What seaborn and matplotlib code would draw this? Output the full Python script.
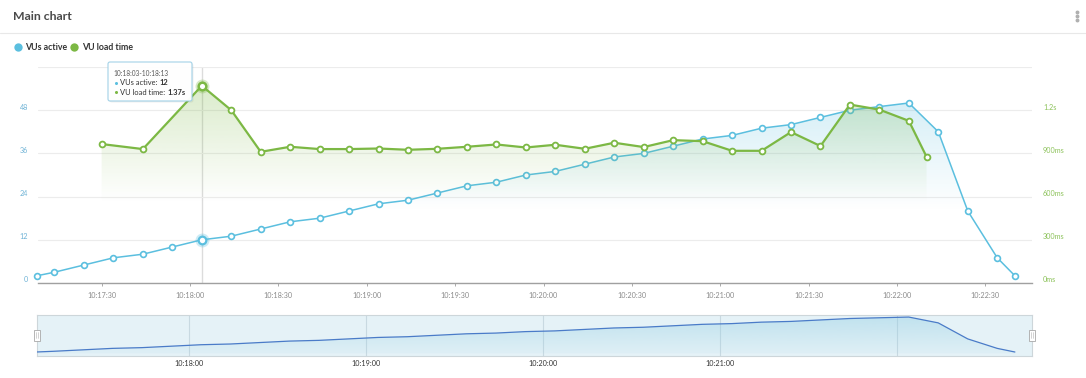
import numpy as np
import matplotlib
matplotlib.use("Agg")
import matplotlib.pyplot as plt
import matplotlib.transforms as mtransforms
from matplotlib.lines import Line2D
from matplotlib.patches import FancyBboxPatch, Rectangle
from matplotlib.text import Annotation
from matplotlib.colors import to_rgb
import seaborn as sns

# ---------------- data ----------------
vus_times = ["10:17:08", "10:17:14", "10:17:24", "10:17:34", "10:17:44", "10:17:54",
             "10:18:04", "10:18:14", "10:18:24", "10:18:34", "10:18:44", "10:18:54",
             "10:19:04", "10:19:14", "10:19:24", "10:19:34", "10:19:44", "10:19:54",
             "10:20:04", "10:20:14", "10:20:24", "10:20:34", "10:20:44", "10:20:54",
             "10:21:04", "10:21:14", "10:21:24", "10:21:34", "10:21:44", "10:21:54",
             "10:22:04", "10:22:14", "10:22:24", "10:22:34", "10:22:40"]
vus_active = [2, 3, 5, 7, 8, 10,
              12, 13, 15, 17, 18, 20,
              22, 23, 25, 27, 28, 30,
              31, 33, 35, 36, 38, 40,
              41, 43, 44, 46, 48, 49,
              50, 42, 20, 7, 2]

load_times = ["10:17:30", "10:17:44",
              "10:18:04", "10:18:14", "10:18:24", "10:18:34", "10:18:44", "10:18:54",
              "10:19:04", "10:19:14", "10:19:24", "10:19:34", "10:19:44", "10:19:54",
              "10:20:04", "10:20:14", "10:20:24", "10:20:34", "10:20:44", "10:20:54",
              "10:21:04", "10:21:14", "10:21:24", "10:21:34", "10:21:44", "10:21:54",
              "10:22:04", "10:22:10"]
load_ms = [965, 930,
           1370, 1200, 911, 946, 930, 930,
           934, 925, 932, 946, 962, 941,
           960, 932, 974, 944, 992, 985,
           918, 918, 1048, 951, 1239, 1204,
           1126, 877]

x_tick_times = ["10:17:30", "10:18:00", "10:18:30", "10:19:00", "10:19:30", "10:20:00",
                "10:20:30", "10:21:00", "10:21:30", "10:22:00", "10:22:30"]
nav_tick_times = ["10:18:00", "10:19:00", "10:20:00", "10:21:00", "10:22:00"]
nav_tick_labels = ["10:18:00", "10:19:00", "10:20:00", "10:21:00", ""]
left_ticks = [0, 12, 24, 36, 48, 60]
left_labels = ["0", "12", "24", "36", "48", ""]
right_ticks = [0, 300, 600, 900, 1200, 1500]
right_labels = ["0ms", "300ms", "600ms", "900ms", "1.2s", ""]

title = "Main chart"
series_names = ["VUs active", "VU load time"]
hover_time = "10:18:04"
tooltip_range = "10:18:03-10:18:13"
tooltip_vus = "12"
tooltip_load = "1.37s"

BLUE = "#5bbfdf"
GREEN = "#7cb844"


def secs(t):
    h, m, s = map(int, t.split(":"))
    return (h - 10) * 3600 + (m - 17) * 60 + s


vx = np.array([secs(t) for t in vus_times], dtype=float)
vy = np.array(vus_active, dtype=float)
gx = np.array([secs(t) for t in load_times], dtype=float)
gy = np.array(load_ms, dtype=float)

# ---------------- figure ----------------
sns.set_theme(style="white")
plt.rcParams["font.family"] = ["Lato", "DejaVu Sans"]

W, H = 1086, 378
fig = plt.figure(figsize=(W / 100, H / 100), dpi=100)
fig.patch.set_facecolor("white")
PX = mtransforms.Affine2D().scale(1 / 100, -1 / 100).translate(0, H / 100) + fig.dpi_scale_trans


def frac(x0, y0, x1, y1):
    return [x0 / W, 1 - y1 / H, (x1 - x0) / W, (y1 - y0) / H]


XLIM = (8.4, 345.8)

ax = fig.add_axes(frac(38, 67, 1032, 283))
ax.set_facecolor("none")
ax.set_xlim(*XLIM)
ax.set_ylim(0, 60)
ax2 = ax.twinx()
ax2.set_ylim(0, 1500)
ax2.set_xlim(*XLIM)


def gradient_fill(axis, x, y, color, a_top, frac_zero, a_bottom=0.0, z=1):
    poly = axis.fill_between(x, y, 0, facecolor="none", edgecolor="none")
    xmin, xmax = axis.get_xlim()
    ymin, ymax = axis.get_ylim()
    n = 256
    p = np.linspace(1, 0, n)
    a = np.clip((p - frac_zero) / (1 - frac_zero), 0, 1) * (a_top - a_bottom) + a_bottom
    img = np.zeros((n, 1, 4))
    img[:, :, :3] = to_rgb(color)
    img[:, 0, 3] = a
    im = axis.imshow(img, aspect="auto", extent=[xmin, xmax, ymin, ymax],
                     origin="upper", zorder=z, interpolation="bilinear")
    im.set_clip_path(poly.get_paths()[0], transform=axis.transData)
    axis.set_xlim(xmin, xmax)
    axis.set_ylim(ymin, ymax)


# grid + axes styling
ax.set_yticks(left_ticks)
ax.set_yticklabels(left_labels)
ax.yaxis.grid(True, color="#ececec", lw=0.8)
ax.xaxis.grid(False)
ax.set_xticks([secs(t) for t in x_tick_times])
ax.set_xticklabels(x_tick_times)
ax.tick_params(axis="x", length=2.5, width=0.7, color="#aaaaaa", labelsize=5.2,
               labelcolor="#8a8a8a", pad=4, bottom=True)
ax.tick_params(axis="y", length=0, pad=7, labelsize=5.2, labelcolor="#6fb3d6")
ax2.set_yticks(right_ticks)
ax2.set_yticklabels(right_labels)
ax2.tick_params(axis="y", length=0, pad=8, labelsize=5.2, labelcolor="#8cc25a")
for s in ["left", "right", "top"]:
    ax.spines[s].set_visible(False)
for s in ax2.spines.values():
    s.set_visible(False)
ax.spines["bottom"].set_color("#a0a0a0")
ax.spines["bottom"].set_linewidth(1.0)
for lbl in ax.get_yticklabels() + ax2.get_yticklabels():
    lbl.set_transform(lbl.get_transform() +
                      mtransforms.ScaledTranslation(0, 0.035, fig.dpi_scale_trans))

# crosshair
hx = secs(hover_time)
ax.axvline(hx, color="#dcdcdc", lw=1.0, zorder=0.5)

# fills
gradient_fill(ax, vx, vy, BLUE, 0.33, 20 / 60, z=1)
gradient_fill(ax2, gx, gy, GREEN, 0.32, 560 / 1500, z=1)

# lines
sns.lineplot(x=vx, y=vy, ax=ax, color=BLUE, lw=1.1, marker="o", markersize=4.2,
             markerfacecolor="white", markeredgecolor=BLUE, markeredgewidth=1.2,
             errorbar=None, legend=False, clip_on=False, zorder=3)
sns.lineplot(x=gx, y=gy, ax=ax2, color=GREEN, lw=1.6, marker="o", markersize=4.2,
             markerfacecolor="white", markeredgecolor=GREEN, markeredgewidth=1.3,
             errorbar=None, legend=False, clip_on=False, zorder=3)
ax.set_xlabel(""); ax.set_ylabel(""); ax2.set_ylabel("")

# hovered points
iv = vus_times.index(hover_time)
ig = load_times.index(hover_time)
ax.plot([vx[iv]], [vy[iv]], "o", ms=10, color=BLUE, alpha=0.3, mew=0, zorder=4, clip_on=False)
ax.plot([vx[iv]], [vy[iv]], "o", ms=5.5, mfc="white", mec=BLUE, mew=1.6, zorder=5, clip_on=False)
ax2.plot([gx[ig]], [gy[ig]], "o", ms=10, color=GREEN, alpha=0.3, mew=0, zorder=4, clip_on=False)
ax2.plot([gx[ig]], [gy[ig]], "o", ms=5.5, mfc="white", mec=GREEN, mew=1.8, zorder=5, clip_on=False)

# ---------------- navigator ----------------
nav = fig.add_axes(frac(37, 314.5, 1032, 355.8))
nav.set_facecolor("#e5f2f7")
nav.set_xlim(*XLIM)
nav.set_ylim(-3.2, 53.5)
gradient_fill(nav, vx, vy, "#8fcde3", 0.45, 0.0, a_bottom=0.05, z=1)
sns.lineplot(x=vx, y=vy, ax=nav, color="#4a7bc8", lw=0.9, errorbar=None, legend=False, zorder=3)
nav.set_xticks([secs(t) for t in nav_tick_times])
nav.set_xticklabels(nav_tick_labels)
nav.set_yticks([])
nav.xaxis.grid(True, color="#c8d9e1", lw=0.8)
nav.yaxis.grid(False)
nav.tick_params(axis="x", length=0, pad=3, labelsize=5.2, labelcolor="#333333")
nav.set_xlabel(""); nav.set_ylabel("")
for s in nav.spines.values():
    s.set_color("#cdd6da")
    s.set_linewidth(0.8)

# navigator handles
for hxp in (37, 1032):
    fig.add_artist(Rectangle((hxp - 2.8, 329.5), 5.6, 11, transform=PX, facecolor="white",
                             edgecolor="#a8a8a8", lw=0.6, zorder=10))
    fig.add_artist(Line2D([hxp - 0.6, hxp - 0.6], [332, 338], transform=PX, color="#b0b0b0", lw=0.4, zorder=11))
    fig.add_artist(Line2D([hxp + 0.8, hxp + 0.8], [332, 338], transform=PX, color="#b0b0b0", lw=0.4, zorder=11))

# ---------------- header / legend ----------------
fig.text(13, 17, title, transform=PX, fontsize=8.8, fontweight="bold", color="#4a4a4a", va="center", ha="left")
fig.add_artist(Line2D([0, W], [33, 33], transform=PX, color="#e8e8e8", lw=0.8))
for yy in (11.5, 15.5, 19.5):
    fig.add_artist(Line2D([1077], [yy], transform=PX, marker="o", ms=1.8, color="#b0b0b0", lw=0))

for cx, tx, col, name in [(17.7, 25, BLUE, series_names[0]), (74, 81.7, GREEN, series_names[1])]:
    fig.add_artist(Line2D([cx], [47], transform=PX, marker="o", ms=6.0, color=col, mew=0, lw=0))
    fig.text(tx, 47, name, transform=PX, fontsize=6.3, fontweight="bold", color="#333333", va="center", ha="left")

# ---------------- tooltip ----------------
fig.add_artist(FancyBboxPatch((109.5, 63.5), 84, 39, transform=PX,
                              boxstyle="round,pad=0,rounding_size=2", facecolor="#000000",
                              edgecolor="none", alpha=0.06, zorder=20))
fig.add_artist(FancyBboxPatch((108, 62), 84, 39, transform=PX,
                              boxstyle="round,pad=0,rounding_size=2", facecolor="white",
                              edgecolor="#9fd0e6", lw=0.8, alpha=0.97, zorder=21))
fig.text(113, 73.3, tooltip_range, transform=PX, fontsize=4.7, color="#555555", va="center", ha="left", zorder=22)
rows = [(82.7, BLUE, series_names[0] + ": ", tooltip_vus), (92.3, GREEN, series_names[1] + ": ", tooltip_load)]
for yy, col, lab, val in rows:
    fig.add_artist(Line2D([116], [yy], transform=PX, marker="o", ms=2.2, color=col, mew=0, lw=0, zorder=22))
    t1 = fig.text(120.5, yy, lab, transform=PX, fontsize=5.4, color="#333333", va="center", ha="left", zorder=22)
    a = Annotation(val, xy=(1, 0.5), xycoords=t1, fontsize=5.4, fontweight="bold", color="#333333",
                   va="center", ha="left", zorder=22)
    fig.add_artist(a)

fig.savefig("out.png", dpi=100, facecolor="white")
